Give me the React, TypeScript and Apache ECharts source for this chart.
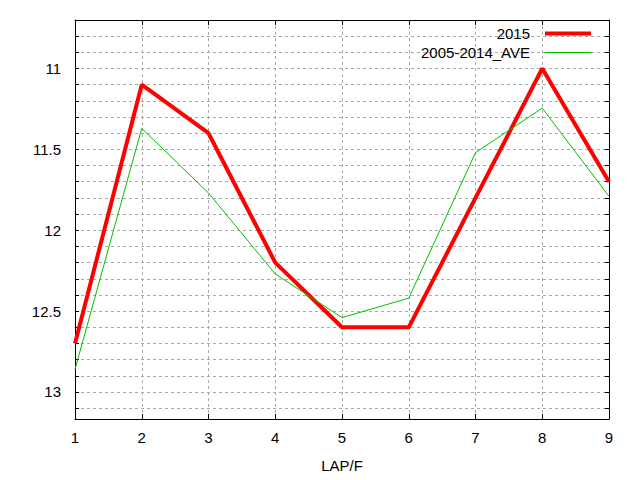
import React, { useEffect, useRef } from "react";
import * as echarts from "echarts";

const laps = [1, 2, 3, 4, 5, 6, 7, 8, 9];
const series2015 = [12.7, 11.1, 11.4, 12.2, 12.6, 12.6, 11.8, 11.0, 11.7];
const seriesAve = [12.86, 11.37, 11.77, 12.27, 12.54, 12.42, 11.52, 11.245, 11.79];
const seriesNames = ["2015", "2005-2014_AVE"];
const xName = "LAP/F";

const FONT = "Liberation Sans";

export default function App() {
  const ref = useRef<HTMLDivElement>(null);
  useEffect(() => {
    const chart = echarts.init(ref.current!, null, { renderer: "svg" });
    const yBase = {
      type: "value" as const,
      min: 10.7,
      max: 13.167,
      interval: 0.1,
      inverse: true,
      axisLine: { show: true, lineStyle: { color: "#000", width: 1 } },
      axisTick: { show: true, inside: true, length: 4, lineStyle: { color: "#000" } },
    };
    const xBase = {
      type: "value" as const,
      min: 1,
      max: 9,
      interval: 1,
      axisLine: { show: true, onZero: false, lineStyle: { color: "#000", width: 1 } },
      axisTick: { show: true, inside: true, length: 5, lineStyle: { color: "#000" } },
    };
    const gridLine = {
      show: true,
      showMinLine: false,
      showMaxLine: false,
      lineStyle: { color: "#a8a8a8", type: [3, 3] as any, width: 1 },
    };
    chart.setOption({
      animation: false,
      backgroundColor: "#fff",
      textStyle: { fontFamily: FONT },
      grid: {
        left: 75,
        top: 20,
        right: 31,
        bottom: 61,
        show: false,
        containLabel: false,
        outerBoundsMode: "none",
      },
      legend: {
        orient: "vertical",
        right: 49,
        top: 26,
        padding: 0,
        align: "right",
        itemWidth: 46,
        itemHeight: 14,
        itemGap: 4,
        data: [
          { name: seriesNames[0], icon: "path://M0,0L46,0L46,4L0,4Z" },
          { name: seriesNames[1], icon: "path://M0,0L46,0L46,1L0,1Z" },
        ],
        textStyle: {
          fontFamily: FONT,
          fontSize: 15,
          lineHeight: 15,
          color: "#000",
          padding: [0, 10, 0, 0],
        },
      },
      xAxis: [
        {
          ...xBase,
          position: "bottom",
          name: xName,
          nameLocation: "middle",
          nameGap: 39,
          nameTextStyle: { fontFamily: FONT, fontSize: 15, color: "#000" },
          axisLabel: { fontFamily: FONT, fontSize: 15, color: "#000", margin: 11 },
          splitLine: gridLine,
        },
        {
          ...xBase,
          position: "top",
          axisLabel: { show: false },
          splitLine: { show: false },
        },
      ],
      yAxis: [
        {
          ...yBase,
          position: "left",
          axisLabel: {
            fontFamily: FONT,
            fontSize: 15,
            color: "#000",
            margin: 14,
            formatter: (v: number) => {
              const d = v * 2;
              if (Math.abs(d - Math.round(d)) < 1e-6) return String(Math.round(d) / 2);
              return "";
            },
          },
          splitLine: gridLine,
        },
        {
          ...yBase,
          position: "right",
          axisLabel: { show: false },
          splitLine: { show: false },
        },
      ],
      series: [
        {
          name: seriesNames[0],
          type: "line",
          data: laps.map((x, i) => [x, series2015[i]]),
          symbol: "none",
          showSymbol: false,
          color: "#ff0000",
          lineStyle: { color: "#ff0000", width: 4 },
          z: 3,
        },
        {
          name: seriesNames[1],
          type: "line",
          data: laps.map((x, i) => [x, seriesAve[i]]),
          symbol: "none",
          showSymbol: false,
          color: "#00c000",
          lineStyle: { color: "#00c000", width: 1 },
          z: 4,
        },
      ],
    });
    return () => chart.dispose();
  }, []);
  return (
    <div
      ref={ref}
      style={{ position: "fixed", left: 0, top: 0, width: 640, height: 480, background: "#fff" }}
    />
  );
}
